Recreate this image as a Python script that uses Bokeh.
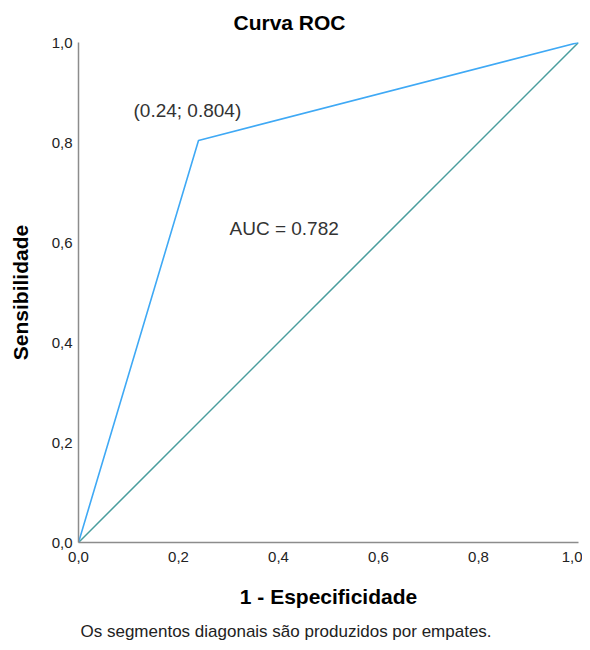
from bokeh.plotting import figure
from bokeh.models import Range1d, FixedTicker, Title, Label
from bokeh.embed import file_html
from bokeh.resources import INLINE

# ROC data
roc_x = [0.0, 0.24, 1.0]
roc_y = [0.0, 0.804, 1.0]
ref_x = [0.0, 1.0]
ref_y = [0.0, 1.0]
tick_vals = [0.0, 0.2, 0.4, 0.6, 0.8, 1.0]
tick_labels = ["0,0", "0,2", "0,4", "0,6", "0,8", "1,0"]
point_label = "(0.24; 0.804)"
point_label_pos = (0.11, 0.864)
auc_label = "AUC = 0.782"
auc_label_pos = (0.302, 0.628)
footnote = "Os segmentos diagonais são produzidos por empates."

FONT = "Liberation Sans"

p = figure(width=582, height=650, output_backend="svg", toolbar_location=None,
           x_range=Range1d(0, 1), y_range=Range1d(0, 1),
           min_border_left=78, min_border_right=4, min_border_top=42, min_border_bottom=108)
p.outline_line_color = None
p.grid.visible = False
p.background_fill_color = "white"
p.border_fill_color = "white"

p.title.text = "Curva ROC"
p.title.align = "left"
p.title.text_font = FONT
p.title.text_font_size = "21px"
p.title.text_font_style = "bold"
p.title.text_color = "black"
p.title.offset = 155
p.title.standoff = 17

for ax in (p.xaxis[0], p.yaxis[0]):
    ax.ticker = FixedTicker(ticks=tick_vals)
    ax.major_label_overrides = {v: l for v, l in zip(tick_vals, tick_labels)}
    ax.major_tick_line_color = None
    ax.minor_tick_line_color = None
    ax.major_tick_out = 0
    ax.major_tick_in = 0
    ax.axis_line_color = "#8c8c8c"
    ax.axis_line_width = 1.5
    ax.major_label_text_font = FONT
    ax.major_label_text_font_size = "15px"
    ax.major_label_text_color = "#222222"
    ax.major_label_text_line_height = 1.0
    ax.axis_label_text_font = FONT
    ax.axis_label_text_font_size = "21px"
    ax.axis_label_text_font_style = "bold"
    ax.axis_label_text_color = "black"
    ax.axis_label_text_line_height = 1.0

p.xaxis[0].axis_label = "1 - Especificidade"
p.xaxis[0].major_label_standoff = 9
p.xaxis[0].axis_label_standoff = 20
p.yaxis[0].axis_label = "Sensibilidade"
p.yaxis[0].major_label_standoff = 6
p.yaxis[0].axis_label_standoff = 17

p.line(ref_x, ref_y, line_color="#4a9e9e", line_width=1.5)
p.line(roc_x, roc_y, line_color="#3fa9f5", line_width=1.6)

p.add_layout(Label(x=point_label_pos[0], y=point_label_pos[1], text=point_label,
                   text_font=FONT, text_font_size="19px", text_color="#333333",
                   text_baseline="middle", text_align="left"))
p.add_layout(Label(x=auc_label_pos[0], y=auc_label_pos[1], text=auc_label,
                   text_font=FONT, text_font_size="19px", text_color="#333333",
                   text_baseline="middle", text_align="left"))

p.add_layout(Title(text=footnote, align="left", text_font=FONT, text_font_size="17px",
                   text_font_style="normal", text_color="#222222", offset=2,
                   standoff=19), "below")

open("out.html", "w").write(file_html(p, INLINE))
